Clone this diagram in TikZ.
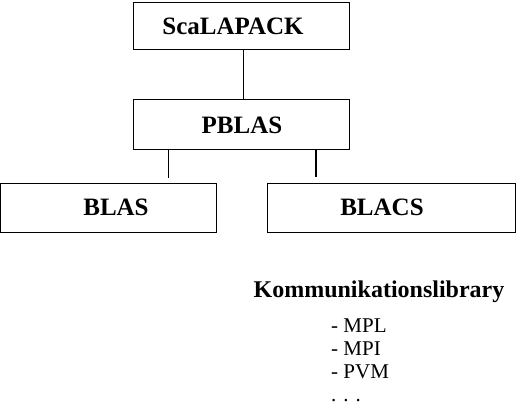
\documentclass[tikz,border=0pt]{standalone}
\usepackage{fontspec}
\setmainfont{Liberation Serif}
\begin{document}
\begin{tikzpicture}[x=1pt,y=-1pt,
  box/.style={draw,line width=1pt,inner sep=0pt},
  lbl/.style={font=\fontsize{25}{25}\selectfont\bfseries,anchor=base,inner sep=0pt},
  item/.style={font=\fontsize{21}{21}\selectfont,anchor=base west,inner sep=0pt},
  conn/.style={line width=1pt}]
\useasboundingbox (0,0) rectangle (516,405);
\node[box,minimum width=216pt,minimum height=47pt] (sca) at (241,25.5) {};
\node[box,minimum width=216pt,minimum height=50pt] (pblas) at (241,124) {};
\node[box,minimum width=216pt,minimum height=49pt] (blas) at (108.5,207.5) {};
\node[box,minimum width=248pt,minimum height=49pt] (blacs) at (391,207.5) {};
\node[lbl] (tsca) at (233,34) {ScaLAPACK};
\node[lbl] (tpblas) at (242,133) {PBLAS};
\node[lbl] (tblas) at (116,215) {BLAS};
\node[lbl] (tblacs) at (382,215) {BLACS};
\node[lbl,font=\fontsize{24}{24}\selectfont\bfseries] (komm) at (379,297) {Kommunikationslibrary};
\node[item] (mpl) at (331,332) {- MPL};
\node[item] (mpi) at (331,355) {- MPI};
\node[item] (pvm) at (331,378) {- PVM};
\node[item] (dots) at (331,401) {. . .};
\coordinate (c1) at (168,178);
\coordinate (c2) at (316,177);
\draw[conn] (sca.south -| 243,0) -- (pblas.north -| 243,0);
\draw[conn] (pblas.south -| c1) -- (c1);
\draw[conn,line width=2pt] (pblas.south -| c2) -- (c2);
\end{tikzpicture}
\end{document}
